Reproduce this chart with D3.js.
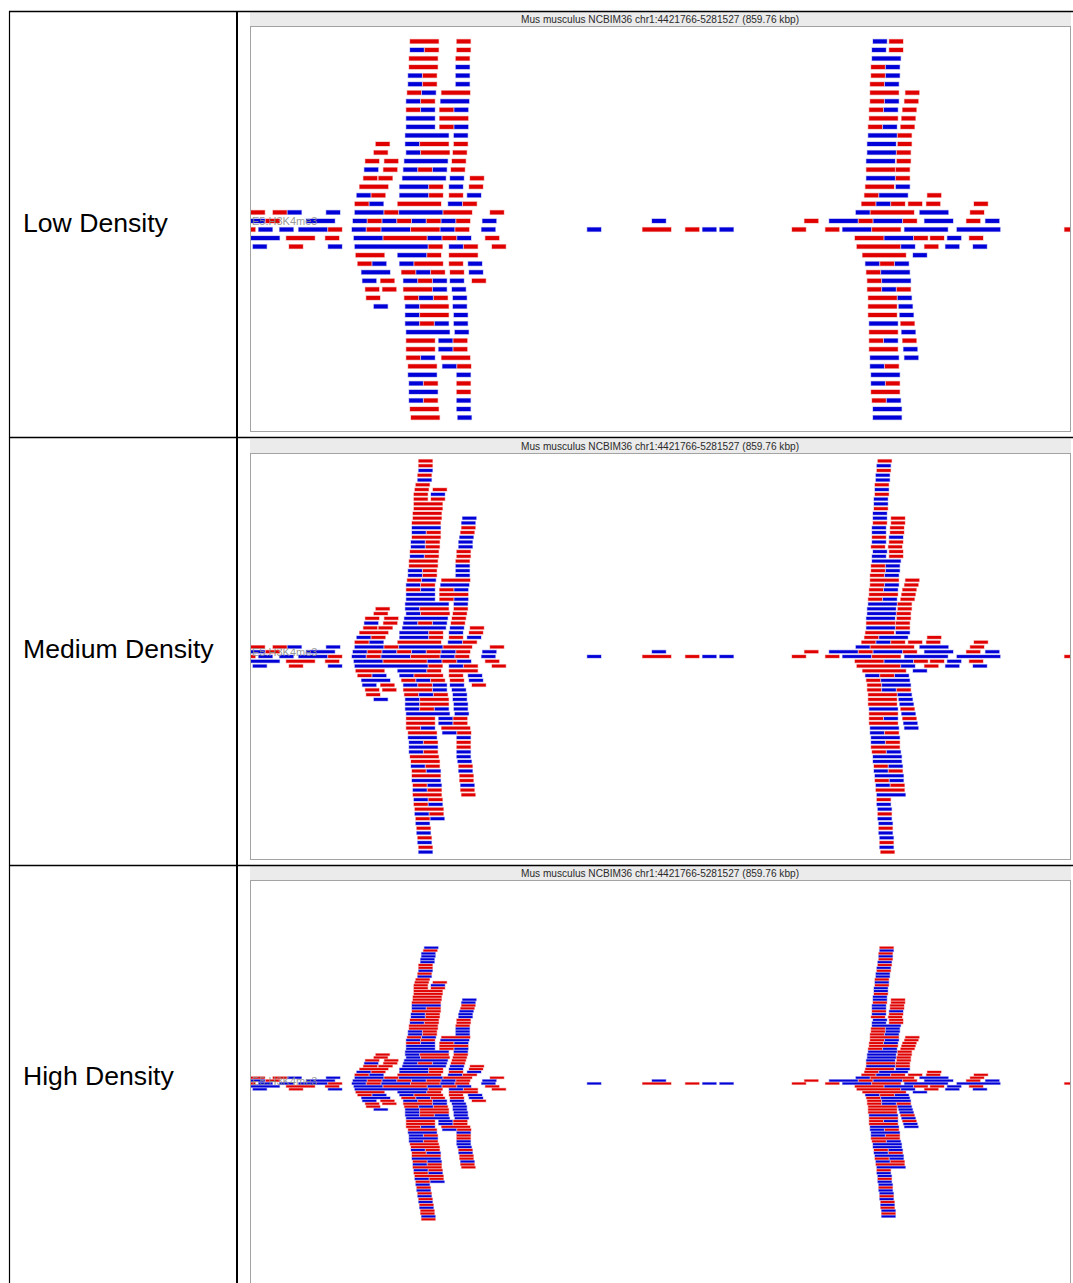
<!DOCTYPE html>
<html>
<head>
<meta charset="utf-8">
<script src="https://cdn.jsdelivr.net/npm/d3@7"></script>
<style>
  body { margin: 0; background: #fff; }
  svg { display: block; }
</style>
</head>
<body>
<svg id="chart" width="1073" height="1283"></svg>
<script>
// ---- data -------------------------------------------------------------
const densityLabels = ["Low Density", "Medium Density", "High Density"];
const regionTitle = "Mus musculus NCBIM36 chr1:4421766-5281527 (859.76 kbp)";
const regionSpanKb = 859.76;          // kb shown across the track
const readLengthKb = 15.5;            // length of one read
const trackName = "E5.H3K4me3";
const strands = { R: "forward", B: "reverse" };

// Stacked reads, one string per stack row, from offset -47 (top) to +47.
// Each token is "startKb:strands": consecutive abutting reads starting at
// startKb (kb from region start), R = forward strand, B = reverse strand.
const firstRowOffset = -47;
const readRows = [
  "182:B 660:R",
  "181:R 660:B",
  "179:B 659:R",
  "179:B 659:B",
  "178:B 659:R",
  "178:B 658:B",
  "176:R 658:R",
  "176:R 657:B",
  "176:B 657:R",
  "175:R 656:B",
  "175:B 656:B",
  "173:R 655:R",
  "172:R 191:R 655:B",
  "171:R 189:B 655:R",
  "171:R 189:R 654:B",
  "171:RR 654:B",
  "171:RR 654:R",
  "170:RR 653:B",
  "170:RR 222:B 653:B 672:R",
  "169:RR 221:B 653:R 672:R",
  "169:BB 221:R 652:B 671:R",
  "169:BR 220:R 652:B 671:R",
  "169:RR 219:B 652:R 670:B",
  "168:BR 218:B 652:B 670:R",
  "168:BR 218:B 651:R 669:R",
  "167:RR 216:R 653:B 670:R",
  "167:BR 216:R 652:B 670:R",
  "166:RR 215:R 652:BB",
  "166:RR 215:B 651:RB",
  "165:BR 215:B 651:RB",
  "165:BR 215:B 650:RB",
  "164:RB 200:RR 650:RR 687:R",
  "163:BR 199:BB 650:RB 686:R",
  "163:RB 198:RB 649:RB 684:R",
  "163:BB 198:RR 649:RR 683:R",
  "163:BB 198:RB 648:RB 682:R",
  "162:BBB 213:B 648:BBR",
  "131:R 162:BRR 213:R 647:BB 679:R",
  "129:R 163:BRR 212:R 647:BBR",
  "120:R 140:R 161:BBB 211:R 646:BB 678:R",
  "119:B 139:R 160:BRB 210:R 646:RR 677:R",
  "118:R 134:R 159:BBB 209:B 230:R 646:BB 677:R",
  "114:RR 156:BBR 208:B 229:R 645:RR 677:B",
  "111:BR 156:BBR 208:R 227:B 644:RBB 710:R",
  "109:RB 154:RRR 207:BR 641:RBR 690:R 709:R 759:R",
  "0:R 23:RB 79:B 109:BBRBBBRR 251:R 635:BRRR 702:BB 755:R",
  "0:BR 58:BB 107:BRBRBRBR 243:B 421:B 581:R 607:BBRBBR 707:BB 751:R 771:B",
  "-10:R 8:B 30:B 50:BBR 106:BRBBRRBR 242:B 353:B 411:RR 456:R 474:B 492:B 568:R 603:R 621:BBRR 686:BBB 741:BBB 854:R",
  "0:BB 37:RR 78:R 108:BBRRRBRB 246:R 634:RRBBR 713:R 731:B 754:R",
  "2:B 40:R 81:B 109:BBBBBR 208:BR 253:R 636:RRRB 707:R 729:B 758:B",
  "110:RR 154:BBR 208:RR 642:RRR 695:B",
  "112:RB 156:BRR 208:R 228:B 645:BRB",
  "116:BB 158:RBR 209:R 229:B 646:RBB",
  "117:B 136:R 160:BRB 209:B 232:R 647:RBB",
  "120:R 138:R 160:RRB 211:B 647:RBR",
  "121:R 161:RBR 212:B 648:RRB",
  "129:B 162:BRR 212:B 648:RR 680:B",
  "162:BRR 213:B 648:RR 681:B",
  "162:BRB 213:B 649:BB 682:R",
  "163:BBB 214:B 649:RR 683:B",
  "163:RR 197:BR 649:RB 684:R",
  "163:RR 197:BR 649:RR 685:B",
  "163:RB 200:RR 650:BB 686:B",
  "165:RR 201:BR 650:BR",
  "165:BB 216:B 651:BB",
  "166:BR 216:R 651:BR",
  "166:BB 216:R 651:RR",
  "166:BR 216:B 652:RB",
  "167:RR 216:B 653:BB",
  "168:RR 217:B 653:BB",
  "168:BR 218:R 654:RB",
  "169:RB 218:B 654:BR",
  "169:RR 219:R 655:BB",
  "169:BB 219:R 655:RB",
  "170:RB 220:B 656:BR",
  "170:BR 220:R 656:RR",
  "170:RR 221:R 657:BB",
  "171:BR 657:R",
  "171:RB 657:B",
  "172:RR 658:B",
  "172:BR 658:R",
  "173:RB 658:B",
  "173:B 659:B",
  "174:R 659:R",
  "174:B 659:B",
  "175:R 660:B",
  "175:B 660:R",
  "176:R 660:B",
  "176:B 661:R",
  "177:R 661:B",
  "177:B 661:R",
  "178:R 662:B",
  "178:R 662:R",
  "179:B 662:B",
  "179:R"
];

// ---- parse rows into runs of same-strand reads ---------------------------
const runs = [];
readRows.forEach((row, i) => {
  const offset = firstRowOffset + i;
  row.split(" ").forEach(tok => {
    const [s, seq] = tok.split(":");
    const start = +s;
    let k = 0;
    while (k < seq.length) {
      let n = 1;
      while (k + n < seq.length && seq[k + n] === seq[k]) n++;
      runs.push({ offset, start: start + k * readLengthKb, n, strand: strands[seq[k]] });
      k += n;
    }
  });
});

// ---- layout -------------------------------------------------------------
const W = 1073, H = 1283;
const svg = d3.select("#chart");
const color = d3.scaleOrdinal().domain(["forward", "reverse"]).range(["#e00000", "#0000d8"]);
const x = d3.scaleLinear().domain([0, regionSpanKb]).range([251, 1070]);

const panels = [
  { label: densityLabels[0], cellTop: 12, cellBottom: 437, pitch: 8.55, barH: 4.0, depth: 22 },
  { label: densityLabels[1], cellTop: 439, cellBottom: 865, pitch: 4.77, barH: 2.8, depth: 41 },
  { label: densityLabels[2], cellTop: 866, cellBottom: 1290, pitch: 2.89, barH: 1.9, depth: 48 }
];

const defs = svg.append("defs");

panels.forEach((p, pi) => {
  const g = svg.append("g");
  const boxTop = p.cellTop + 14;
  const boxBottom = Math.min(p.cellBottom - 6, H + 5);
  const center = boxTop + 203.5;
  const y = d3.scaleLinear().domain([0, 1]).range([center, center + p.pitch]);

  // header strip with region title
  g.append("rect")
    .attr("x", 250).attr("y", p.cellTop)
    .attr("width", 821).attr("height", 14)
    .attr("fill", "#ebebeb");
  g.append("text")
    .attr("x", 660).attr("y", p.cellTop + 10.5)
    .attr("text-anchor", "middle")
    .attr("font-family", "Liberation Sans, Arial, sans-serif")
    .attr("font-size", 10)
    .attr("fill", "#2a2a2a")
    .attr("textLength", 278)
    .attr("lengthAdjust", "spacingAndGlyphs")
    .text(regionTitle);

  // track box
  g.append("rect")
    .attr("x", 250.5).attr("y", boxTop + 0.5)
    .attr("width", 820).attr("height", boxBottom - boxTop)
    .attr("fill", "#fff")
    .attr("stroke", "#a3a3a3").attr("stroke-width", 1);

  const clipId = "clip" + pi;
  defs.append("clipPath").attr("id", clipId)
    .append("rect")
    .attr("x", 251).attr("y", boxTop + 1)
    .attr("width", 819).attr("height", boxBottom - boxTop - 1);

  const reads = g.append("g").attr("clip-path", `url(#${clipId})`);
  reads.selectAll("rect")
    .data(runs.filter(r => Math.abs(r.offset) <= p.depth))
    .join("rect")
    .attr("x", d => x(d.start))
    .attr("y", d => y(d.offset) - p.barH / 2)
    .attr("width", d => x(d.start + d.n * readLengthKb) - x(d.start) - 1)
    .attr("height", p.barH)
    .attr("fill", d => color(d.strand))
    .attr("stroke", d => color(d.strand))
    .attr("stroke-opacity", 0.3)
    .attr("stroke-width", 1.2);

  // track name, drawn over the reads
  reads.append("text")
    .attr("x", 252)
    .attr("y", y(-1) + 4)
    .attr("font-family", "Liberation Sans, Arial, sans-serif")
    .attr("font-size", 11)
    .attr("fill", "#8c8c8c")
    .attr("fill-opacity", 0.9)
    .text(trackName);

  // density label in the left column
  g.append("text")
    .attr("x", 23)
    .attr("y", [223, 649, 1076][pi])
    .attr("dy", "0.35em")
    .attr("font-family", "Liberation Sans, Arial, sans-serif")
    .attr("font-size", 26.6)
    .attr("fill", "#000")
    .text(p.label);
});

// table rules
const rules = svg.append("g").attr("stroke", "#000");
rules.append("line").attr("x1", 9).attr("x2", W).attr("y1", 11.5).attr("y2", 11.5).attr("stroke-width", 1.6);
rules.append("line").attr("x1", 9).attr("x2", W).attr("y1", 437.5).attr("y2", 437.5).attr("stroke-width", 1.6);
rules.append("line").attr("x1", 9).attr("x2", W).attr("y1", 865.5).attr("y2", 865.5).attr("stroke-width", 1.6);
rules.append("line").attr("x1", 9.5).attr("x2", 9.5).attr("y1", 11).attr("y2", H).attr("stroke-width", 1.2);
rules.append("line").attr("x1", 237).attr("x2", 237).attr("y1", 11).attr("y2", H).attr("stroke-width", 2);
</script>
</body>
</html>
